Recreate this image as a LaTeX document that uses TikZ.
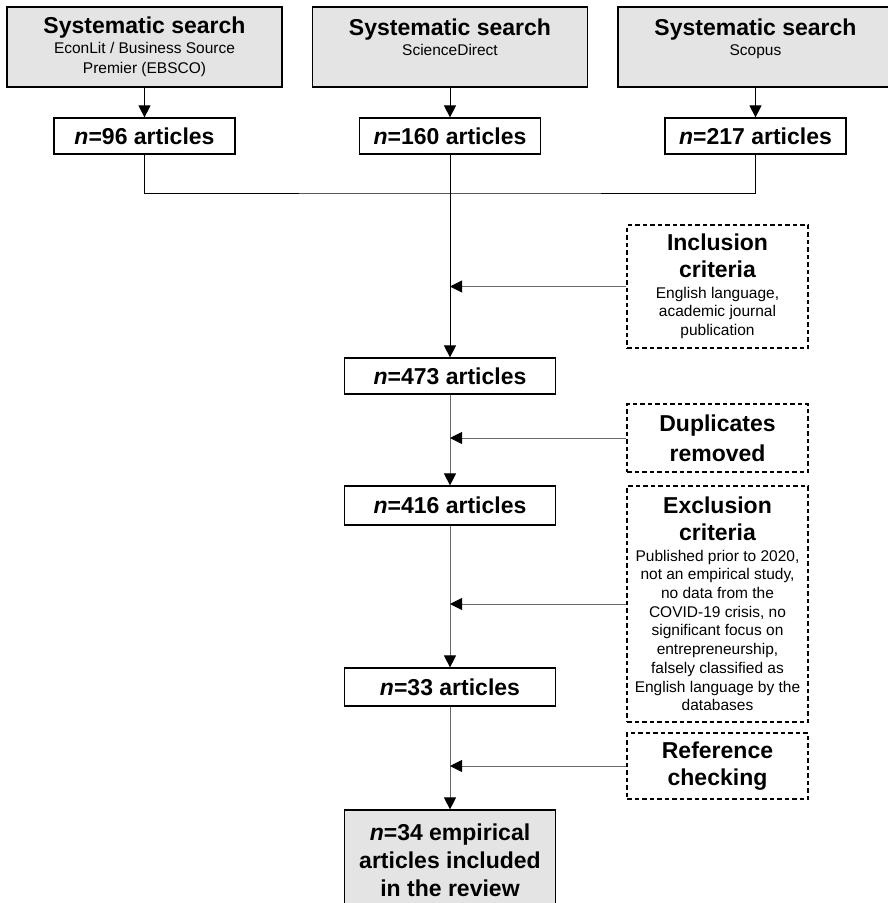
\documentclass[tikz,border=0pt]{standalone}
\usepackage{fontspec}
\setmainfont{Liberation Sans}
\usetikzlibrary{arrows.meta}

\definecolor{boxgray}{RGB}{228,228,228}
\definecolor{linegray}{RGB}{105,105,105}

\newcommand{\hd}[1]{{\bfseries\fontsize{23}{27}\selectfont #1}}
\newcommand{\sm}{\fontsize{15.5}{20}\selectfont}

\tikzset{
	srcbox/.style={draw, fill=boxgray, line width=1.2pt, minimum width=275pt, minimum height=80pt, inner sep=0pt, align=center, font=\sm},
	cntbox/.style={draw, line width=1.2pt, minimum width=181pt, minimum height=36pt, inner sep=0pt, font=\bfseries\fontsize{23}{28}\selectfont},
	stagebox/.style={cntbox, minimum width=211pt},
	critbox/.style={draw, dashed, dash pattern=on 4.5pt off 3pt, line width=1.2pt, minimum width=181pt, inner sep=0pt, align=center, font=\fontsize{15.5}{18.7}\selectfont},
	flow/.style={line width=0.9pt, -{Triangle[length=12pt,width=12pt]}},
	sideflow/.style={flow, draw=linegray, -{Triangle[length=12pt,width=12pt,color=black]}}
}

\begin{document}
\begin{tikzpicture}[x=1pt, y=-1pt]
	\useasboundingbox (0,0) rectangle (888,903);
	
	\node[srcbox] (src1) at (144.5,47) {\hd{Systematic search}\\EconLit / Business Source\\Premier (EBSCO)};
	\node[srcbox] (src2) at (450,47) {\hd{Systematic search}\\ScienceDirect\\\phantom{Premier}};
	\node[srcbox] (src3) at (755.5,47) {\hd{Systematic search}\\Scopus\\\phantom{Premier}};
	
	\node[cntbox] (cnt1) at (144.5,136) {\textit{n}=96 articles};
	\node[cntbox] (cnt2) at (450,136) {\textit{n}=160 articles};
	\node[cntbox] (cnt3) at (755.5,136) {\textit{n}=217 articles};
	\coordinate (join) at (450,193);
	
	\node[stagebox] (n473) at (450,376) {\textit{n}=473 articles};
	\node[stagebox, minimum height=39pt] (n416) at (450,505.5) {\textit{n}=416 articles};
	\node[stagebox, minimum height=38pt] (n33) at (450,687) {\textit{n}=33 articles};
	\node[stagebox, fill=boxgray, minimum height=100pt, align=center] (final) at (450,860) {\textit{n}=34 empirical\\articles included\\in the review};
	
	\node[critbox, minimum height=123pt] (incl) at (717.5,286.5) {\hd{Inclusion}\\[8pt]\hd{criteria}\\[2pt]English language,\\academic journal\\publication};
	\node[critbox, minimum height=68pt] (dup) at (717.5,438) {\hd{Duplicates}\\[8pt]\hd{removed}};
	\node[critbox, minimum height=236pt] (excl) at (717.5,604) {\hd{Exclusion}\\[8pt]\hd{criteria}\\[2pt]Published prior to 2020,\\not an empirical study,\\no data from the\\COVID-19 crisis, no\\significant focus on\\entrepreneurship,\\falsely classified as\\English language by the\\databases};
	\node[critbox, minimum height=66pt] (refc) at (717.5,766) {\hd{Reference}\\[8pt]\hd{checking}};
	
	\draw[flow] (src1) -- (cnt1);
	\draw[flow] (src2) -- (cnt2);
	\draw[flow] (src3) -- (cnt3);
	\draw[line width=0.9pt] (cnt1) |- (join) -| (cnt3);
	\draw[flow] (cnt2) -- (n473);
	\draw[sideflow] (n473) -- (n416);
	\draw[sideflow] (n416) -- (n33);
	\draw[sideflow] (n33) -- (final);
	
	\draw[sideflow] (incl) -- (incl -| n473);
	\draw[sideflow] (dup) -- (dup -| n473);
	\draw[sideflow] (excl) -- (excl -| n473);
	\draw[sideflow] (refc) -- (refc -| n473);
\end{tikzpicture}
\end{document}
